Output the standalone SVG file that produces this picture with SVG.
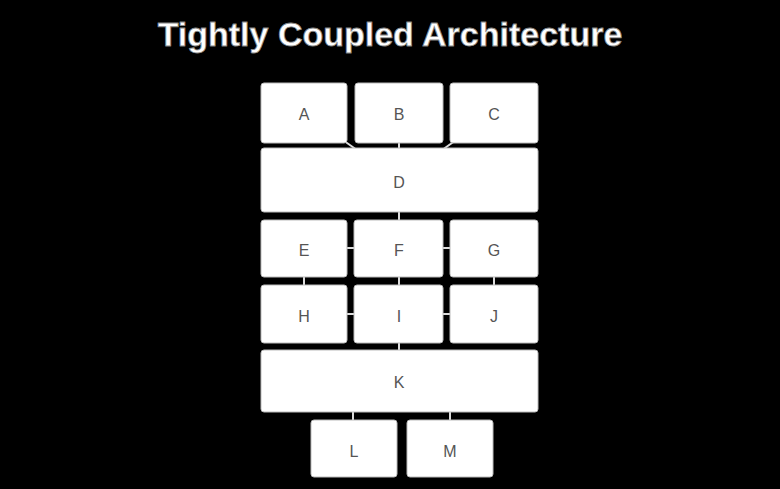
<svg xmlns="http://www.w3.org/2000/svg" width="780" height="489" viewBox="0 0 780 489">
  <style>
    .bg { fill: #000000; }
    .box { fill: #ffffff; stroke: #bbbbbb; stroke-width: 1; }
    .lbl { font-family: "Liberation Sans", Arial, sans-serif; font-size: 16px; fill: #555555; text-anchor: middle; dominant-baseline: central; }
    .title { font-family: "Liberation Sans", Arial, sans-serif; font-size: 34px; font-weight: bold; fill: #ffffff; stroke: #888888; stroke-width: 0.8; text-anchor: middle; }
    .edge { stroke: #dddddd; stroke-width: 2; fill: none; }
  </style>
  <rect class="bg" x="0" y="0" width="780" height="489"/>
  <text class="title" x="390" y="46">Tightly Coupled Architecture</text>

  <g id="connectors">
    <line class="edge" x1="304.5" y1="113" x2="399.5" y2="180"/>
    <line class="edge" x1="399" y1="113" x2="399" y2="180"/>
    <line class="edge" x1="494.5" y1="113" x2="399.5" y2="180"/>
    <line class="edge" x1="399" y1="180" x2="399" y2="248"/>
    <line class="edge" x1="304" y1="248" x2="494" y2="248"/>
    <line class="edge" x1="304" y1="314" x2="494" y2="314"/>
    <line class="edge" x1="304" y1="248" x2="304" y2="314"/>
    <line class="edge" x1="399" y1="248" x2="399" y2="381"/>
    <line class="edge" x1="494" y1="248" x2="494" y2="314"/>
    <line class="edge" x1="353" y1="381" x2="353" y2="448"/>
    <line class="edge" x1="450" y1="381" x2="450" y2="448"/>
  </g>

  <g id="A"><rect class="box" x="261" y="83" width="86" height="60" rx="3"/><text class="lbl" x="304" y="114">A</text></g>
  <g id="B"><rect class="box" x="355" y="83" width="88" height="60" rx="3"/><text class="lbl" x="399" y="114">B</text></g>
  <g id="C"><rect class="box" x="450" y="83" width="88" height="60" rx="3"/><text class="lbl" x="494" y="114">C</text></g>
  <g id="D"><rect class="box" x="261" y="148" width="277" height="64" rx="3"/><text class="lbl" x="399" y="182">D</text></g>
  <g id="E"><rect class="box" x="261" y="220" width="86" height="57" rx="3"/><text class="lbl" x="304" y="250">E</text></g>
  <g id="F"><rect class="box" x="354" y="220" width="89" height="57" rx="3"/><text class="lbl" x="399" y="250">F</text></g>
  <g id="G"><rect class="box" x="450" y="220" width="88" height="57" rx="3"/><text class="lbl" x="494" y="250">G</text></g>
  <g id="H"><rect class="box" x="261" y="285" width="86" height="58" rx="3"/><text class="lbl" x="304" y="316">H</text></g>
  <g id="I"><rect class="box" x="354" y="285" width="89" height="58" rx="3"/><text class="lbl" x="399" y="316">I</text></g>
  <g id="J"><rect class="box" x="450" y="285" width="88" height="58" rx="3"/><text class="lbl" x="494" y="316">J</text></g>
  <g id="K"><rect class="box" x="261" y="350" width="277" height="62" rx="3"/><text class="lbl" x="399" y="382">K</text></g>
  <g id="L"><rect class="box" x="311" y="420" width="86" height="57" rx="3"/><text class="lbl" x="354" y="451">L</text></g>
  <g id="M"><rect class="box" x="407" y="420" width="86" height="57" rx="3"/><text class="lbl" x="450" y="451">M</text></g>
</svg>
